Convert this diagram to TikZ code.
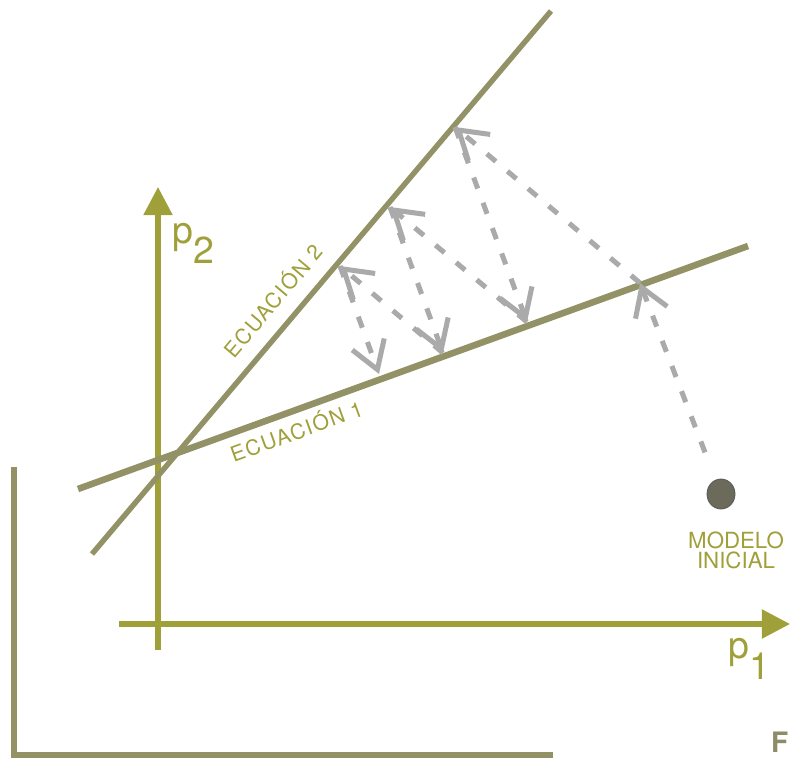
\documentclass[tikz,border=0pt]{standalone}
\usepackage{fontspec}
\setmainfont{TeX Gyre Heros}
\newfontfamily\eqfont[LetterSpace=7]{TeX Gyre Heros}
\usetikzlibrary{arrows.meta,positioning,shapes.geometric}
\definecolor{lineolive}{RGB}{146,146,102}
\definecolor{axisolive}{RGB}{160,160,58}
\definecolor{stepgray}{RGB}{170,170,170}
\definecolor{dotgray}{RGB}{108,106,90}
\definecolor{fgray}{RGB}{140,140,104}

\begin{document}
\begin{tikzpicture}[x=0.03cm, y=-0.03cm,
  eqline/.style={draw=lineolive, line width=4.6pt},
  axis/.style={draw=axisolive, line width=4.4pt, -{Triangle[length=24pt,width=24pt]}},
  guess/.style={draw=stepgray, line width=4.3pt, dash pattern=on 10pt off 13pt, -{Straight Barb[length=23pt,width=29pt]}},
  eqlab/.style={text=axisolive, font=\eqfont\fontsize{18}{18}\selectfont, inner sep=0pt},
  axlab/.style={text=axisolive, font=\fontsize{32}{32}\selectfont, inner sep=0pt}
]
\useasboundingbox (0,0) rectangle (790,759);
% frame corner
\coordinate (ftop) at (14,467);
\coordinate (fcorner) at (14,755);
\coordinate (fright) at (553,755);
\draw[draw=lineolive, line width=5.6pt] (ftop) -- (fcorner) -- (fright);
% axes
\coordinate (p2start) at (158,650);
\coordinate (p2end) at (158,187);
\coordinate (p1start) at (119,624);
\coordinate (p1end) at (790,624);
\draw[axis] (p2start) -- (p2end);
\draw[axis] (p1start) -- (p1end);
\node[axlab, anchor=base west] (p2lab) at (172,243) {p\raisebox{-0.56em}{2}};
\node[axlab, anchor=base west] (p1lab) at (728,658) {p\raisebox{-0.58em}{1}};
% equations
\coordinate (e2s) at (92,554);
\coordinate (e2e) at (551,11);
\coordinate (e1s) at (78,489);
\coordinate (e1e) at (748,246);
\draw[eqline] (e2s) -- (e2e);
\draw[eqline, line width=5.6pt] (e1s) -- (e1e);
\node[eqlab, rotate=49.8] (eq2lab) at (272,300) {ECUACIÓN 2};
\node[eqlab, rotate=19.9] (eq1lab) at (296,430) {ECUACIÓN 1};
% starting model
\node[ellipse, draw=black!65, fill=dotgray, line width=0.7pt, minimum width=0.84cm, minimum height=0.9cm, inner sep=0pt] (model) at (721,494) {};
\node[text=axisolive, font=\fontsize{19}{17}\selectfont, align=center, inner sep=0pt, below=0.68cm of model, xshift=0.45cm] (modellab) {MODELO\\INICIAL};
\node[text=fgray, font=\fontsize{24}{24}\selectfont\bfseries, anchor=base west, inner sep=0pt] (flab) at (771,752) {F};
% projections
\coordinate (h1) at (640,283);
\coordinate (h2) at (455,127);
\coordinate (h3) at (527,322);
\coordinate (h4) at (390,207);
\coordinate (h5) at (443,353);
\coordinate (h6) at (340,266);
\coordinate (h7) at (379,374);
\draw[guess, shorten <=25pt] (model) -- (h1);
\draw[guess] (h1) -- (h2);
\draw[guess] (h2) -- (h3);
\draw[guess] (h3) -- (h4);
\draw[guess] (h4) -- (h5);
\draw[guess] (h5) -- (h6);
\draw[guess] (h6) -- (h7);
\end{tikzpicture}
\end{document}
